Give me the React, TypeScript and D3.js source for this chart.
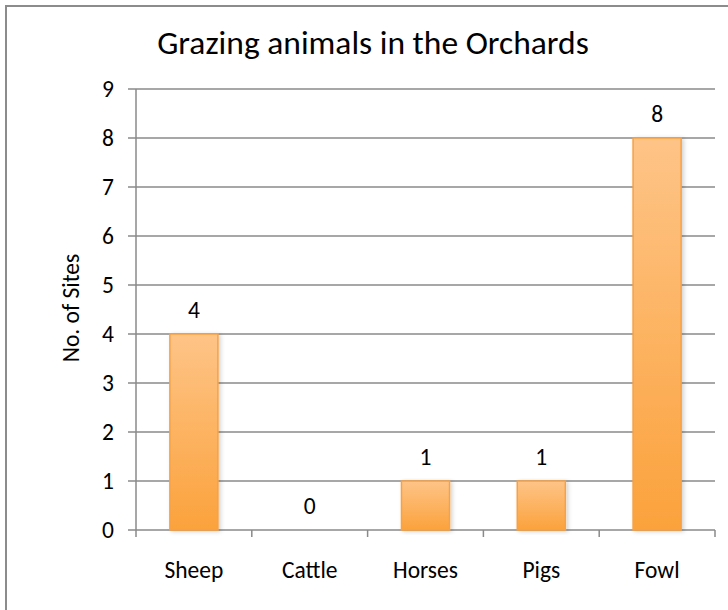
import React from "react";
import * as d3 from "d3";

const categories: string[] = ["Sheep", "Cattle", "Horses", "Pigs", "Fowl"];
const values: number[] = [4, 0, 1, 1, 8];
const yTicks: number[] = [0, 1, 2, 3, 4, 5, 6, 7, 8, 9];
const title = "Grazing animals in the Orchards";
const yTitle = "No. of Sites";

const W = 728;
const H = 610;
const FONT = "Carlito, Lato, 'Open Sans', sans-serif";

export default function App() {
  const left = 136;
  const right = 715;
  const top = 89;
  const bottom = 530;

  const x = d3
    .scaleBand<string>()
    .domain(categories)
    .range([left, right])
    .paddingInner(0.585)
    .paddingOuter(0.2925);
  const y = d3.scaleLinear().domain([0, 9]).range([bottom, top]);
  const step = (right - left) / categories.length;
  const boundaries = d3.range(categories.length + 1).map((i) => left + i * step);

  const grid = "#8a8a8a";
  const fs = 23.5;

  return (
    <svg
      width={W}
      height={H}
      style={{ position: "absolute", left: 0, top: 0, background: "#fff" }}
      fontFamily={FONT}
    >
      <defs>
        <linearGradient id="barGrad" x1="0" y1="0" x2="0" y2="1">
          <stop offset="0%" stopColor="#FEC487" />
          <stop offset="100%" stopColor="#FBA23C" />
        </linearGradient>
        <filter id="shadow" x="-20%" y="-5%" width="150%" height="115%">
          <feDropShadow dx="2" dy="1" stdDeviation="2" floodColor="#000" floodOpacity="0.18" />
        </filter>
      </defs>
      <rect x={0} y={0} width={W} height={H} fill="#fff" />
      <rect x={6} y={6} width={W + 20} height={H + 20} fill="none" stroke="#8c8c8c" strokeWidth={2} />

      <text x={373} y={54} textAnchor="middle" fontSize={33.5} fill="#000">
        {title}
      </text>

      {/* gridlines and y ticks */}
      {yTicks.map((t) => (
        <g key={t}>
          <line x1={left - 8} x2={right} y1={y(t)} y2={y(t)} stroke={grid} strokeWidth={1.5} />
          <text x={114} y={y(t)} dy="0.35em" textAnchor="end" fontSize={fs} fill="#000">
            {t}
          </text>
        </g>
      ))}
      <line x1={left} x2={left} y1={top} y2={bottom + 7} stroke={grid} strokeWidth={1.5} />
      {boundaries.slice(1).map((bx, i) => (
        <line key={i} x1={bx} x2={bx} y1={bottom} y2={bottom + 7} stroke={grid} strokeWidth={1.5} />
      ))}

      {/* bars */}
      {categories.map((c, i) => {
        const v = values[i];
        const bx = x(c)!;
        const bw = x.bandwidth();
        return (
          <g key={c}>
            {v > 0 && (
              <rect
                x={bx}
                y={y(v)}
                width={bw}
                height={y(0) - y(v)}
                fill="url(#barGrad)"
                stroke="#F7A146"
                strokeWidth={1.5}
                filter="url(#shadow)"
              />
            )}
            <text x={bx + bw / 2} y={y(v) - 16} textAnchor="middle" fontSize={fs} fill="#000">
              {v}
            </text>
            <text x={bx + bw / 2} y={578} textAnchor="middle" fontSize={fs} fill="#000">
              {c}
            </text>
          </g>
        );
      })}

      <text
        transform={`translate(79, 308) rotate(-90)`}
        textAnchor="middle"
        fontSize={fs}
        fill="#000"
      >
        {yTitle}
      </text>
    </svg>
  );
}
